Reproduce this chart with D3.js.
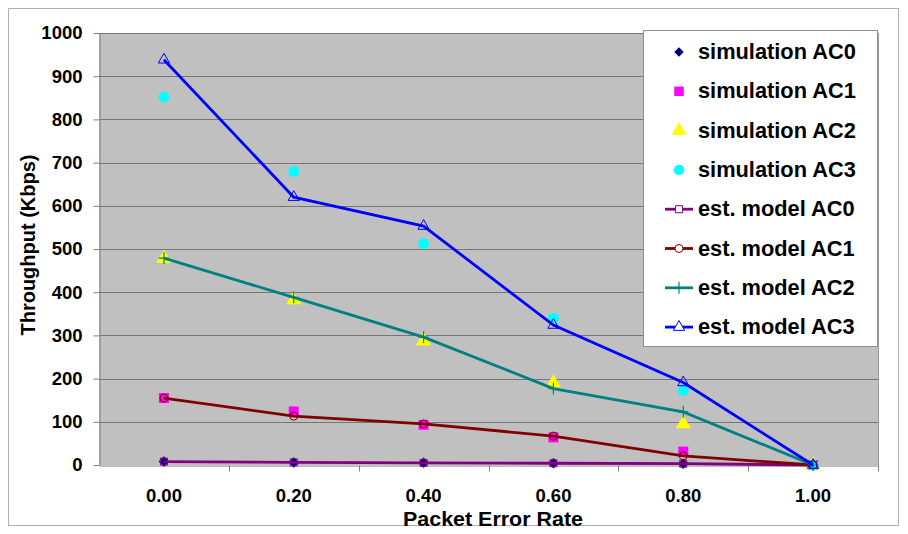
<!DOCTYPE html>
<html><head><meta charset="utf-8">
<script src="https://cdn.jsdelivr.net/npm/d3@7"></script>
<style>body{margin:0;background:#fff}svg{display:block}text{font-family:"Liberation Sans",Arial,sans-serif;font-weight:bold}</style>
</head><body><svg id="c" width="908" height="534"></svg>
<script>
const categories = ["0.00","0.20","0.40","0.60","0.80","1.00"];
const yTicks = [0,100,200,300,400,500,600,700,800,900,1000];
const simAC0 = [8,6,5,4,3,0];
const simAC1 = [155,124,93,64,31,0];
const simAC2 = [478,382,287,190,95,0];
const simAC3 = [852,680,513,340,173,0];
const estAC0 = [8,6,5,4,3,0];
const estAC1 = [155,113,95,67,21,0];
const estAC2 = [479,388,296,177,123,0];
const estAC3 = [938,620,553,324,191,0];

const svg = d3.select("#c");
const L=99, R=878, T=33, B=465;
const x = d3.scaleBand().domain(categories).range([L,R]);
const y = d3.scaleLinear().domain([0,1000]).range([B,T]);
const cx = c => x(c)+x.bandwidth()/2;

// outer frame
svg.append("rect").attr("x",8.5).attr("y",8.5).attr("width",890).attr("height",517).attr("fill","#fff").attr("stroke","#b0b0b0");
// plot area
svg.append("rect").attr("x",L).attr("y",T).attr("width",R-L).attr("height",B-T).attr("fill","#c0c0c0");
// grid
svg.append("g").selectAll("line").data(yTicks.filter(d=>d>0)).join("line")
  .attr("x1",L).attr("x2",R).attr("y1",d=>Math.round(y(d))+0.5).attr("y2",d=>Math.round(y(d))+0.5)
  .attr("stroke","#767676").attr("stroke-width",1.2);
svg.append("line").attr("x1",R+0.5).attr("x2",R+0.5).attr("y1",T).attr("y2",B).attr("stroke","#9a9a9a");

// axes
const yAxis = d3.axisLeft(y).tickValues(yTicks).tickFormat(d3.format("d")).tickSize(6).tickPadding(11).tickSizeOuter(0);
const gy = svg.append("g").attr("transform",`translate(${L+0.5},0)`).call(yAxis);
gy.selectAll("text").style("font-size","18.5px").attr("fill","#000");
gy.selectAll("line,path").attr("stroke","#808080");

const xAxis = d3.axisBottom(x).tickSize(0).tickPadding(23).tickSizeOuter(0);
const gx = svg.append("g").attr("transform",`translate(0,${B+0.5})`).call(xAxis);
gx.selectAll("text").style("font-size","18.5px").attr("fill","#000");
gx.select("path").attr("stroke","#808080");
// ticks between categories
const bounds = categories.slice(1).map(c=>x(c)).concat([R]);
gx.append("g").selectAll("line").data(bounds).join("line")
  .attr("x1",d=>Math.round(d)+0.5).attr("x2",d=>Math.round(d)+0.5).attr("y1",0).attr("y2",6).attr("stroke","#808080");

// titles
svg.append("text").attr("transform","translate(35,245) rotate(-90)").attr("text-anchor","middle").style("font-size","20px").text("Throughput (Kbps)");
svg.append("text").attr("x",493).attr("y",526).attr("text-anchor","middle").style("font-size","20px").attr("textLength",180).attr("lengthAdjust","spacingAndGlyphs").text("Packet Error Rate");

const sym = (type,size)=>d3.symbol().type(type).size(size)();
function drawSim(data,type,size,color,rot){
  svg.append("g").selectAll("path").data(data).join("path")
    .attr("transform",(d,i)=>`translate(${cx(categories[i])},${y(d)}) rotate(${rot||0})`)
    .attr("d",sym(type,size)).attr("fill",color);
}
drawSim(simAC0,d3.symbolSquare,55,"#000080",45);
drawSim(simAC1,d3.symbolSquare,100,"#ff00ff");
drawSim(simAC2,d3.symbolTriangle,100,"#ffff00");
drawSim(simAC3,d3.symbolCircle,95,"#00ffff");

const line = d3.line().x((d,i)=>cx(categories[i])).y(d=>y(d));
function drawEst(data,color,type,size,mcolor){
  svg.append("path").datum(data).attr("d",line).attr("fill","none").attr("stroke",color).attr("stroke-width",2.8);
  if(!type) return;
  svg.append("g").selectAll("path").data(data).join("path")
    .attr("transform",(d,i)=>`translate(${cx(categories[i])},${y(d)})`)
    .attr("d",sym(type,size)).attr("fill","none").attr("stroke",mcolor).attr("stroke-width",1);
}
drawEst(estAC0,"#800080",d3.symbolSquare,50,"#800080");
drawEst(estAC1,"#800000",d3.symbolCircle,50,"#800000");
drawEst(estAC2,"#008080",null);
svg.append("g").selectAll("path").data(estAC2).join("path")
  .attr("transform",(d,i)=>`translate(${cx(categories[i])},${y(d)})`)
  .attr("d","M-5,0H5M0,-6V6").attr("stroke","#008080").attr("stroke-width",1.2);
drawEst(estAC3,"#0000ff",d3.symbolTriangle,55,"#0000ff");

// legend
const lg = svg.append("g");
lg.append("rect").attr("x",643.5).attr("y",30.5).attr("width",234).attr("height",316).attr("fill","#fff").attr("stroke","#909090");
const legendNames = ["simulation AC0","simulation AC1","simulation AC2","simulation AC3","est. model AC0","est. model AC1","est. model AC2","est. model AC3"];
const lgTypes = [
  {t:d3.symbolSquare,s:45,f:"#000080",r:45},
  {t:d3.symbolSquare,s:90,f:"#ff00ff"},
  {t:d3.symbolTriangle,s:95,f:"#ffff00"},
  {t:d3.symbolCircle,s:85,f:"#00ffff"},
  {t:d3.symbolSquare,s:50,c:"#800080"},
  {t:d3.symbolCircle,s:50,c:"#800000"},
  {t:null,c:"#008080"},
  {t:d3.symbolTriangle,s:55,c:"#0000ff"}
];
legendNames.forEach((n,i)=>{
  const yy = 52 + i*39.3;
  const m = lgTypes[i];
  if(m.c){
    lg.append("line").attr("x1",665).attr("x2",693).attr("y1",yy).attr("y2",yy).attr("stroke",m.c).attr("stroke-width",2.8);
    if(m.t) lg.append("path").attr("transform",`translate(679,${yy})`).attr("d",sym(m.t,m.s)).attr("fill","#fff").attr("stroke",m.c);
    else lg.append("path").attr("transform",`translate(679,${yy})`).attr("d","M0,-6V6").attr("stroke",m.c).attr("stroke-width",1.2);
  } else {
    lg.append("path").attr("transform",`translate(679,${yy}) rotate(${m.r||0})`).attr("d",sym(m.t,m.s)).attr("fill",m.f);
  }
  lg.append("text").attr("x",698).attr("y",yy+7).style("font-size","21.8px").text(n);
});
</script></body></html>
